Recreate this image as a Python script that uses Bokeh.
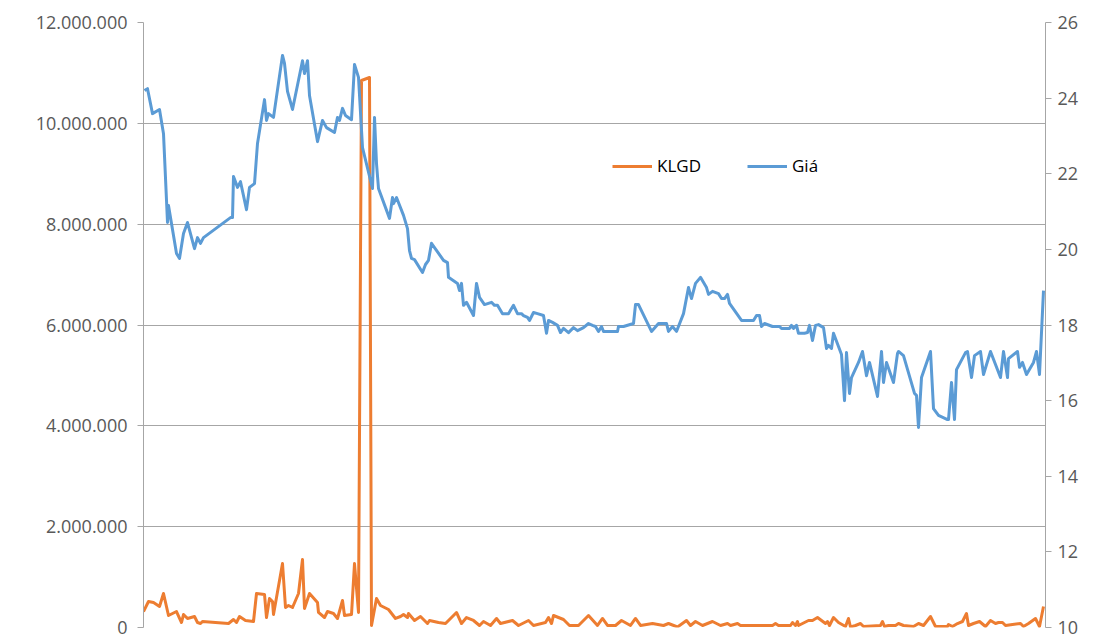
from bokeh.plotting import figure
from bokeh.models import Range1d, LinearAxis, FixedTicker, CustomJSTickFormatter, Legend, LegendItem
from bokeh.embed import file_html
from bokeh.resources import INLINE

# ---- data (trading-day index) ----
vol_day = [0, 5, 10, 16, 20, 25, 33, 38, 40, 44, 51, 54, 57, 59, 85, 90, 93, 96, 102, 110,
           113, 121, 123, 126, 129, 130, 139, 142, 145, 149, 155, 159, 161, 166, 174, 175, 181, 184, 190, 194,
           199, 201, 208, 211, 215, 218, 226, 228, 233, 237, 245, 252, 257, 260, 264, 265, 271, 277, 284, 286,
           295, 302, 313, 318, 323, 330, 336, 340, 347, 353, 357, 369, 375, 385, 390, 402, 405, 408, 410, 420,
           426, 435, 442, 445, 454, 459, 464, 472, 478, 487, 492, 497, 509, 520, 525, 534, 543, 547, 552, 559,
           569, 577, 584, 587, 594, 597, 629, 632, 635, 647, 649, 652, 654, 655, 665, 669, 674, 682, 684, 686,
           690, 695, 702, 705, 707, 712, 717, 720, 737, 739, 741, 745, 752, 755, 760, 770, 775, 780, 787, 792,
           804, 805, 809, 814, 819, 823, 825, 830, 836, 842, 847, 852, 855, 859, 862, 869, 877, 880, 885, 892,
           896, 900]
klgd = [317000, 516000, 496000, 417000, 674000, 238000, 317000, 99000, 258000, 179000, 218000, 99000, 79000, 119000, 79000, 159000, 99000, 218000, 139000, 119000,
        674000, 655000, 198000, 575000, 516000, 258000, 1269000, 397000, 436000, 397000, 674000, 1349000, 377000, 674000, 496000, 298000, 198000, 317000, 278000, 179000,
        536000, 238000, 258000, 1269000, 298000, 10850000, 10909000, 40000, 575000, 436000, 357000, 179000, 218000, 258000, 198000, 278000, 139000, 218000, 79000, 139000,
        99000, 79000, 298000, 79000, 198000, 139000, 40000, 119000, 40000, 179000, 79000, 139000, 40000, 139000, 40000, 99000, 198000, 79000, 238000, 159000,
        40000, 40000, 179000, 238000, 40000, 179000, 40000, 40000, 139000, 40000, 179000, 40000, 79000, 40000, 79000, 10000, 139000, 40000, 119000, 40000,
        119000, 40000, 79000, 40000, 79000, 40000, 40000, 79000, 40000, 40000, 99000, 40000, 119000, 40000, 139000, 139000, 198000, 79000, 119000, 40000,
        198000, 99000, 20000, 179000, 10000, 40000, 79000, 20000, 40000, 119000, 20000, 40000, 40000, 79000, 40000, 20000, 79000, 40000, 218000, 20000,
        20000, 60000, 20000, 79000, 119000, 278000, 40000, 79000, 119000, 20000, 139000, 79000, 99000, 99000, 40000, 60000, 79000, 20000, 79000, 179000,
        20000, 417000]

price_day = [1, 4, 9, 16, 20, 24, 25, 33, 36, 40, 44, 51, 54, 57, 60, 87, 89, 90, 94, 97,
             103, 106, 111, 114, 121, 123, 125, 130, 139, 141, 144, 149, 159, 161, 164, 166, 174, 179, 183, 191,
             194, 196, 199, 202, 208, 211, 215, 219, 229, 231, 233, 235, 246, 249, 250, 253, 260, 264, 266, 268,
             271, 279, 282, 285, 288, 300, 304, 305, 314, 316, 318, 320, 323, 330, 333, 336, 341, 348, 351, 354,
             359, 365, 370, 374, 378, 380, 384, 386, 390, 394, 400, 403, 405, 409, 414, 417, 420, 425, 430, 434,
             440, 445, 449, 452, 455, 458, 460, 474, 475, 480, 490, 492, 495, 508, 515, 523, 525, 529, 533, 540,
             545, 548, 552, 557, 563, 565, 569, 575, 578, 581, 584, 586, 598, 610, 613, 616, 618, 621, 629, 636,
             638, 646, 648, 650, 653, 655, 661, 664, 666, 669, 672, 675, 680, 683, 685, 688, 690, 698, 701, 703,
             706, 708, 715, 719, 723, 726, 734, 738, 740, 743, 750, 754, 755, 760, 771, 773, 775, 778, 787, 790,
             795, 804, 805, 808, 811, 813, 822, 824, 828, 831, 837, 840, 847, 857, 860, 864, 865, 874, 876, 879,
             883, 890, 893, 896, 900]
gia = [24.20, 24.25, 23.59, 23.70, 23.06, 20.71, 21.16, 19.89, 19.76, 20.42, 20.71, 20.02, 20.31, 20.16, 20.31, 20.84, 20.84, 21.93, 21.64, 21.79,
       21.05, 21.64, 21.74, 22.80, 23.96, 23.41, 23.59, 23.49, 25.13, 24.92, 24.18, 23.70, 24.99, 24.65, 24.99, 24.07, 22.85, 23.41, 23.22, 23.09,
       23.49, 23.41, 23.73, 23.54, 23.43, 24.89, 24.55, 22.69, 21.61, 23.49, 22.27, 21.61, 20.82, 21.37, 21.21, 21.37, 20.90, 20.55, 19.97, 19.76,
       19.73, 19.39, 19.60, 19.71, 20.16, 19.71, 19.65, 19.26, 19.10, 18.91, 19.10, 18.52, 18.60, 18.25, 19.10, 18.73, 18.54, 18.60, 18.52, 18.52,
       18.30, 18.30, 18.52, 18.30, 18.30, 18.25, 18.20, 18.12, 18.33, 18.30, 18.25, 17.78, 18.12, 18.07, 17.99, 17.80, 17.91, 17.80, 17.93, 17.85,
       17.93, 18.04, 17.99, 17.96, 17.83, 17.96, 17.83, 17.83, 17.96, 17.96, 18.04, 18.54, 18.54, 17.83, 18.04, 18.04, 17.83, 17.96, 17.83, 18.30,
       18.99, 18.70, 19.10, 19.26, 18.99, 18.81, 18.89, 18.83, 18.70, 18.70, 18.81, 18.57, 18.12, 18.12, 18.25, 18.25, 17.96, 18.04, 17.96, 17.96,
       17.91, 17.91, 17.99, 17.91, 17.99, 17.78, 17.78, 17.80, 17.99, 17.59, 17.99, 18.01, 17.93, 17.38, 17.46, 17.38, 17.78, 17.22, 16.00, 17.27,
       16.19, 16.61, 17.01, 17.30, 16.66, 17.01, 16.11, 17.30, 16.48, 17.01, 16.48, 17.25, 17.30, 17.19, 16.19, 16.14, 15.29, 16.61, 17.30, 15.79,
       15.61, 15.50, 15.50, 16.48, 15.50, 16.82, 17.27, 17.30, 16.61, 17.19, 17.30, 16.69, 17.30, 16.61, 17.30, 16.61, 17.11, 17.30, 16.88, 17.01,
       16.69, 17.01, 17.30, 16.69, 18.91]

left_ticks = [0, 2000000, 4000000, 6000000, 8000000, 10000000, 12000000]
right_ticks = [10, 12, 14, 16, 18, 20, 22, 24, 26]
series_names = ["KLGD", "Giá"]

# ---- styling ----
FONT = "Open Sans"
GRAY = "#a6a6a6"
TXT = "#595959"

p = figure(frame_width=902, frame_height=605,
           min_border_left=143, min_border_right=50, min_border_top=22, min_border_bottom=13,
           x_range=Range1d(0, 902), y_range=Range1d(0, 12000000),
           x_axis_location=None, output_backend="svg", toolbar_location=None)
p.outline_line_color = None
p.background_fill_color = "white"
p.border_fill_color = "white"

p.extra_y_ranges = {"price": Range1d(10, 26)}

# left axis
ya = p.yaxis[0]
ya.ticker = FixedTicker(ticks=left_ticks)
ya.formatter = CustomJSTickFormatter(code=r"return tick.toFixed(0).replace(/\B(?=(\d{3})+(?!\d))/g, '.');")
ya.axis_line_color = GRAY
ya.major_tick_line_color = GRAY
ya.major_tick_in = 0
ya.major_tick_out = 6
ya.minor_tick_line_color = None
ya.major_label_text_font = FONT
ya.major_label_text_font_size = "18px"
ya.major_label_text_color = TXT
ya.major_label_standoff = 10

# right axis
ra = LinearAxis(y_range_name="price", ticker=FixedTicker(ticks=right_ticks))
ra.axis_line_color = GRAY
ra.major_tick_line_color = GRAY
ra.major_tick_in = 0
ra.major_tick_out = 6
ra.minor_tick_line_color = None
ra.major_label_text_font = FONT
ra.major_label_text_font_size = "18px"
ra.major_label_text_color = TXT
ra.major_label_standoff = 6
p.add_layout(ra, "right")

p.xgrid.grid_line_color = None
p.ygrid.grid_line_color = GRAY
p.ygrid.ticker = FixedTicker(ticks=left_ticks)
p.ygrid.grid_line_width = 1.2

r1 = p.line(vol_day, klgd, line_color="#ED7D31", line_width=3, line_join="round")
r2 = p.line(price_day, gia, line_color="#5B9BD5", line_width=3, line_join="round", y_range_name="price")

legend = Legend(items=[LegendItem(label=series_names[0], renderers=[r1]),
                       LegendItem(label=series_names[1], renderers=[r2])],
                orientation="horizontal", location=(469, 450),
                glyph_width=40, glyph_height=20, label_standoff=5, spacing=46,
                padding=0, margin=0, border_line_color=None, background_fill_alpha=0,
                label_text_font=FONT, label_text_font_size="17px", label_text_color="#000000",
                label_height=20)
p.add_layout(legend)

open("out.html", "w").write(file_html(p, INLINE))
